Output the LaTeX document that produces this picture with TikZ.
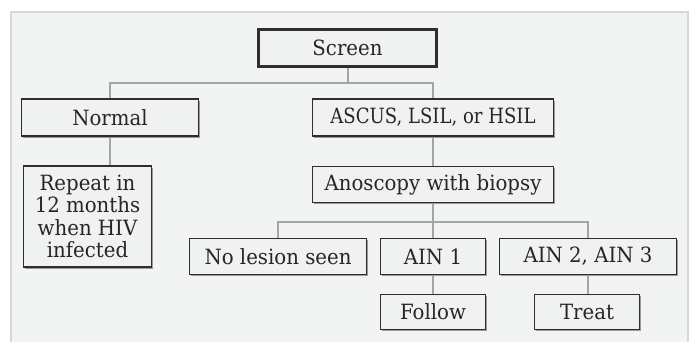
\documentclass[tikz,border=0pt]{standalone}
\usepackage{fontspec}
\setmainfont{DejaVu Serif}[FakeStretch=0.94]
\usetikzlibrary{shadows}
\definecolor{pagebg}{HTML}{F2F3F3}
\definecolor{frameline}{HTML}{D6D7D7}
\definecolor{boxline}{HTML}{2E2E2E}
\definecolor{boxfill}{HTML}{F0F1F1}
\definecolor{shade}{HTML}{9A9A9A}
\definecolor{linkgray}{HTML}{A3A5A6}
\pgfdeclarelayer{frame}
\pgfdeclarelayer{links}
\pgfsetlayers{frame,links,main}
\begin{document}
\begin{tikzpicture}[x=1pt,y=-1pt,
  box/.style={draw=boxline, line width=1.2pt, fill=boxfill, inner sep=0pt,
    align=center, text=black!85, font=\fontsize{21}{22.3}\selectfont,
    drop shadow={shadow xshift=1.8pt, shadow yshift=-1.8pt, fill=shade, opacity=1}},
  link/.style={draw=linkgray, line width=1.8pt}]
\useasboundingbox (0,0) rectangle (691,342);
\begin{pgfonlayer}{frame}
  \fill[pagebg] (11,12) rectangle (688,342);
  \draw[frameline, line width=2pt] (11,342) -- (11,12) -- (688,12) -- (688,342);
\end{pgfonlayer}

% decision boxes
\node[box, line width=2.4pt, minimum width=178pt, minimum height=37pt] (sc) at (347.5,48) {Screen};
\node[box, minimum width=177pt, minimum height=37pt] (nm) at (110,117.5) {Normal};
\node[box, minimum width=241pt, minimum height=37pt] (as) at (433,117.5)
  {\addfontfeature{FakeStretch=0.86}ASCUS, LSIL, or HSIL};
\node[box, minimum width=128pt, minimum height=101pt] (rp) at (87.5,216.5)
  {Repeat in\\12 months\\when HIV\\infected};
\node[box, minimum width=241pt, minimum height=36pt] (an) at (433,184.5) {Anoscopy with biopsy};
\node[box, minimum width=177pt, minimum height=36pt] (nl) at (278,256.5) {No lesion seen};
\node[box, minimum width=105pt, minimum height=36pt] (a1) at (433,256.5) {AIN 1};
\node[box, minimum width=177pt, minimum height=36pt] (a2) at (588,256.5) {AIN 2, AIN 3};
\node[box, minimum width=105pt, minimum height=35pt] (fo) at (433,312) {Follow};
\node[box, minimum width=105pt, minimum height=35pt] (tr) at (587,312) {Treat};

% connectors
\begin{pgfonlayer}{links}
  \coordinate (j1) at (348,83);
  \coordinate (j2) at (433,222);
  \draw[link] (sc.south -| j1) -- (j1);
  \draw[link] (nm.north) |- (j1) -| (as.north);
  \draw[link] (nm.south) -- (rp.north -| nm.south);
  \draw[link] (as.south) -- (an.north);
  \draw[link] (an.south) -- (j2);
  \draw[link] (nl.north) |- (j2) -| (a2.north);
  \draw[link] (j2) -- (a1.north);
  \draw[link] (a1.south) -- (fo.north);
  \draw[link] (a2.south) -- (tr.north -| a2.south);
\end{pgfonlayer}
\end{tikzpicture}
\end{document}
